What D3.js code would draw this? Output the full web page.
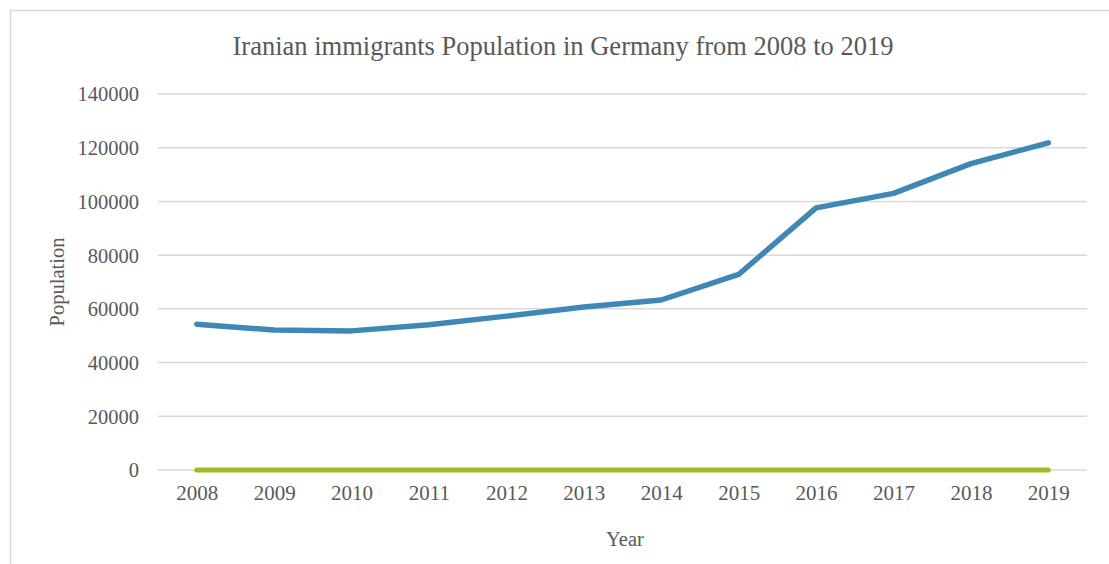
<!DOCTYPE html>
<html>
<head>
<meta charset="utf-8">
<script src="https://cdn.jsdelivr.net/npm/d3@7/dist/d3.min.js"></script>
<style>
  html, body { margin: 0; padding: 0; background: #fff; }
  svg { display: block; }
  text { font-family: "Liberation Serif", "Times New Roman", serif; fill: #595959; }
</style>
</head>
<body>
<svg id="chart" width="1109" height="564"></svg>
<script>
// Iranian immigrants living in Germany, per year
const years = ["2008", "2009", "2010", "2011", "2012", "2013", "2014", "2015", "2016", "2017", "2018", "2019"];
const population = [54300, 52100, 51800, 54100, 57300, 60700, 63300, 72800, 97600, 103000, 114100, 121800];
const baseline = [0, 0, 0, 0, 0, 0, 0, 0, 0, 0, 0, 0];
const yTicks = [0, 20000, 40000, 60000, 80000, 100000, 120000, 140000];

const svg = d3.select("#chart");
const W = 1109, H = 564;
const plot = { left: 158, right: 1087, top: 94, bottom: 470 };

// outer chart frame
svg.append("rect")
  .attr("x", 10.5).attr("y", 10.5)
  .attr("width", W + 20).attr("height", H + 20)
  .attr("fill", "none").attr("stroke", "#d9d9d9").attr("stroke-width", 1.5);

const x = d3.scalePoint().domain(years).range([plot.left, plot.right]).padding(0.5);
const y = d3.scaleLinear().domain([0, 140000]).range([plot.bottom, plot.top]);

// horizontal gridlines
svg.append("g")
  .selectAll("line")
  .data(yTicks)
  .join("line")
  .attr("x1", plot.left).attr("x2", plot.right)
  .attr("y1", d => y(d)).attr("y2", d => y(d))
  .attr("stroke", "#d9d9d9").attr("stroke-width", 1.5);

// y axis labels
const yAxis = d3.axisLeft(y).tickValues(yTicks).tickSize(0).tickPadding(0).tickFormat(d3.format("d"));
const gy = svg.append("g").attr("transform", `translate(${plot.left - 19},0)`).call(yAxis);
gy.select(".domain").remove();
gy.selectAll("text")
  .style("font-family", "'Liberation Serif', serif")
  .style("font-size", "20.5px")
  .attr("fill", "#595959")
  .attr("dy", "0.34em");

// x axis labels
const xAxis = d3.axisBottom(x).tickSize(0).tickPadding(0);
const gx = svg.append("g").attr("transform", `translate(0,${plot.bottom + 15})`).call(xAxis);
gx.select(".domain").remove();
gx.selectAll("text")
  .style("font-family", "'Liberation Serif', serif")
  .style("font-size", "21px")
  .attr("fill", "#595959")
  .attr("dy", "0.71em");

const line = d3.line().x((d, i) => x(years[i])).y(d => y(d));

// baseline series
svg.append("path")
  .datum(baseline)
  .attr("d", line)
  .attr("fill", "none")
  .attr("stroke", "#a5b826")
  .attr("stroke-width", 5)
  .attr("stroke-linecap", "round")
  .attr("stroke-linejoin", "round");

// population series
svg.append("path")
  .datum(population)
  .attr("d", line)
  .attr("fill", "none")
  .attr("stroke", "#3f88b5")
  .attr("stroke-width", 5.5)
  .attr("stroke-linecap", "round")
  .attr("stroke-linejoin", "round");

// title
svg.append("text")
  .attr("x", 563).attr("y", 55)
  .attr("text-anchor", "middle")
  .style("font-size", "26.5px")
  .text("Iranian immigrants Population in Germany from 2008 to 2019");

// axis titles
svg.append("text")
  .attr("transform", `translate(64,${282}) rotate(-90)`)
  .attr("text-anchor", "middle")
  .style("font-size", "20.5px")
  .text("Population");

svg.append("text")
  .attr("x", 625).attr("y", 546)
  .attr("text-anchor", "middle")
  .style("font-size", "20.5px")
  .text("Year");
</script>
</body>
</html>
